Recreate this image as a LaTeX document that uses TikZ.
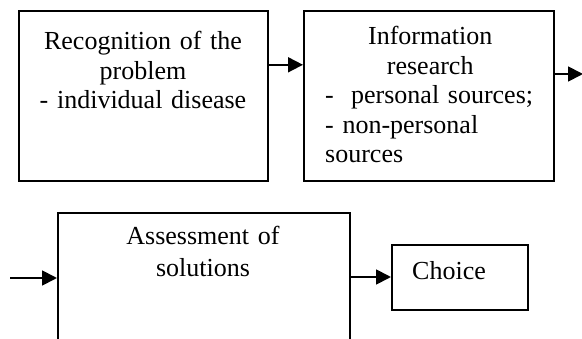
\documentclass[tikz,border=0pt]{standalone}
\usepackage{fontspec}
\setmainfont{Liberation Serif}
\usetikzlibrary{arrows.meta}
\tikzset{
  box/.style={draw, line width=1.6pt, inner sep=0pt, anchor=north west},
  txt/.style={inner sep=0pt, anchor=base, font=\fontsize{26pt}{29.5pt}\selectfont},
  arr/.style={line width=1.8pt, -{Triangle[length=15pt,width=15pt]}}
}
\begin{document}
\begin{tikzpicture}[x=1pt,y=1pt]
\path[use as bounding box] (0,0) rectangle (582,338);
\clip (0,0) rectangle (582,338);
% boxes
\node[box, minimum width=249pt, minimum height=170pt] (b1) at (18,328) {};
\node[box, minimum width=250pt, minimum height=170pt] (b2) at (303,328) {};
\node[box, minimum width=292pt, minimum height=150pt] (b3) at (57,126) {};
\node[box, minimum width=136pt, minimum height=65pt] (c) at (391,94) {};
% texts
\node[txt, text width=240pt, align=center] (t1) at (143,288) {Recognition of the\\problem\\- individual disease};
\node[txt, text width=210pt, align=left, anchor=base west] (t2) at (325,293)
  {\makebox[210pt][c]{Information}\\\makebox[210pt][c]{research}\\-~~personal sources;\\- non-personal\\sources};
\node[txt, text width=260pt, align=center, font=\fontsize{26pt}{32pt}\selectfont] (t3) at (203,93) {Assessment of\\solutions};
\node[txt, anchor=base west] (t4) at (412,58) {Choice};
% connectors
\coordinate (s) at (10,60);
\coordinate (e) at (583,264);
\draw[arr] ([yshift=31pt]b1.east) -- ([yshift=31pt]b2.west);
\draw[arr] (b2.east |- e) -- (e);
\draw[arr] (s) -- (s -| b3.west);
\draw[arr] (b3.east |- 0,61) -- (c.west |- 0,61);
\end{tikzpicture}
\end{document}
